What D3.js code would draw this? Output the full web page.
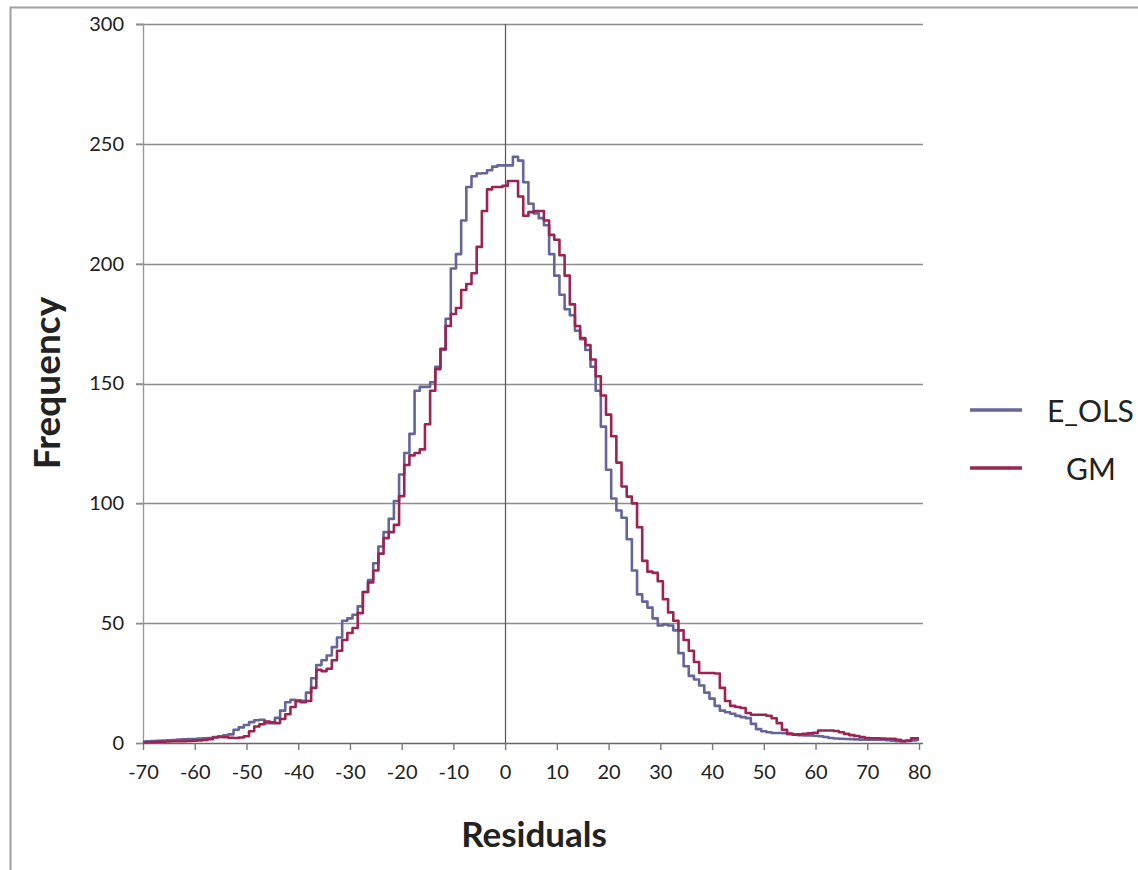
<!DOCTYPE html>
<html>
<head>
<meta charset="utf-8">
<script src="https://cdn.jsdelivr.net/npm/d3@7"></script>
<style>
  body { margin: 0; background: #fff; }
  text { font-family: Lato, "Liberation Sans", sans-serif; fill: #222; }
</style>
</head>
<body>
<div id="chart-area"></div>
<script>
// residual bins, -70 .. 80 in steps of 1
var residuals = d3.range(-70, 81);

var eOls = [
  0.5, 0.7, 0.8, 0.9, 1, 1.1, 1.2, 1.4, 1.5, 1.6,
  1.7, 1.9, 2, 2.1, 2.5, 2.8, 3.2, 3.6, 5.5, 6.5,
  7.5, 8.7, 9.5, 9.7, 8.3, 8.3, 10.5, 13.5, 17, 18,
  17.8, 17.6, 21, 27, 32.5, 34.5, 36.5, 40, 44, 51,
  52, 53.5, 57, 63, 68, 75, 82, 88, 93.5, 101,
  112, 121, 129, 147, 148.6, 148.6, 150.5, 157, 164, 177,
  198, 204, 218, 232, 236.5, 237.6, 237.7, 239, 240.5, 241,
  241, 241, 244.6, 243, 234, 225, 221, 219, 216, 204,
  195, 187, 181, 178.5, 172, 168.5, 164, 157, 147, 132,
  114, 102, 97, 94, 85, 72, 62, 59, 56.5, 52,
  49, 49.5, 49, 47, 37.5, 32, 28, 26.5, 24, 21,
  18.5, 15.5, 13.5, 12.8, 12.2, 11.3, 10.8, 10.4, 8, 5.8,
  4.9, 4.5, 4.2, 4.2, 4.1, 3.7, 3.5, 3.3, 3.2, 3.1,
  3, 2.8, 2.5, 2.1, 1.9, 1.8, 1.7, 1.6, 1.5, 1.4,
  1.4, 1.4, 1.4, 1.4, 1.2, 1, 0.8, 0.8, 0.9, 1.1,
  1.3
];

var gm = [
  0.3, 0.3, 0.4, 0.5, 0.5, 0.6, 0.7, 0.7, 0.8, 0.9,
  1, 1.1, 1.3, 1.6, 2.3, 2.5, 2.4, 2.2, 2.1, 2.3,
  2.8, 4.9, 6.9, 7.8, 9, 8.6, 8.3, 10, 12, 15,
  17.4, 17, 17.5, 23, 30.5, 30, 31, 34.5, 38.5, 43,
  45.9, 48, 54.2, 63, 67, 72, 79, 85.5, 88, 91,
  103, 116, 120, 121, 122.5, 133, 147, 156, 164.5, 174,
  179, 181.5, 189, 191.5, 196, 207, 222, 231, 232, 232,
  232.5, 234.5, 234.5, 228, 220, 221.5, 222, 222, 218, 212,
  210, 203.5, 195, 183, 174, 169, 166, 160, 153, 145,
  137, 128, 117, 107, 102.8, 100, 90, 76, 71.5, 71,
  67.5, 60, 54.5, 51, 47, 43, 38.5, 33.8, 29.2, 29.2,
  29.2, 29, 23, 17.5, 15.5, 15, 14.6, 12.5, 11.8, 11.8,
  11.8, 11.4, 10.3, 8.3, 5.5, 3.9, 3.5, 3.6, 3.8, 4,
  4.3, 5.2, 5.2, 5.2, 5, 4.5, 3.8, 3.3, 2.9, 2.5,
  2.1, 2, 2, 1.9, 1.8, 1.8, 1.3, 0.8, 1, 2,
  2
];

var xTicks = [-70, -60, -50, -40, -30, -20, -10, 0, 10, 20, 30, 40, 50, 60, 70, 80];
var yTicks = [0, 50, 100, 150, 200, 250, 300];
var seriesNames = ["E_OLS", "GM"];
var colors = ["#65659a", "#9a2452"];

var margin = { left: 143, right: 219, top: 24, bottom: 127 };
var width = 1138 - margin.left - margin.right;
var height = 870 - margin.top - margin.bottom;

var root = d3.select("#chart-area")
    .append("svg")
    .attr("width", 1138)
    .attr("height", 870);

// chart frame (only left and top edges are in the picture)
root.append("path")
    .attr("d", "M10.5,870 V7.5 H1138")
    .attr("fill", "none")
    .attr("stroke", "#a0a0a0")
    .attr("stroke-width", 2);

var svg = root.append("g")
    .attr("transform", "translate(" + margin.left + ", " + margin.top + ")");

var x = d3.scaleLinear().domain([-70, 80]).range([0, width]);
var y = d3.scaleLinear().domain([0, 300]).range([height, 0]);

// horizontal gridlines
svg.append("g")
    .selectAll("line")
    .data(yTicks.filter(d => d > 0))
    .enter()
    .append("line")
    .attr("x1", -7)
    .attr("x2", width + 4)
    .attr("y1", d => Math.round(y(d)) + 0.5)
    .attr("y2", d => Math.round(y(d)) + 0.5)
    .attr("stroke", "#8c8c8c")
    .attr("stroke-width", 1.4);

// left edge of plot with tick labels
var yAxis = d3.axisLeft(y).tickValues(yTicks).tickSize(7).tickPadding(12)
    .tickFormat(d => String(d));
var gy = svg.append("g").attr("class", "y axis").call(yAxis);
gy.select(".domain").attr("stroke", "#999").attr("stroke-width", 1.4);
gy.selectAll(".tick line").attr("stroke", "#8c8c8c").attr("stroke-width", 1.4);
gy.selectAll("text").style("font-size", "20px").attr("fill", "#333");

// vertical axis line at zero
svg.append("line")
    .attr("x1", Math.round(x(0)) + 0.5)
    .attr("x2", Math.round(x(0)) + 0.5)
    .attr("y1", 0)
    .attr("y2", height)
    .attr("stroke", "#555")
    .attr("stroke-width", 1.2);

// bottom axis
var xAxis = d3.axisBottom(x).tickValues(xTicks).tickSize(7).tickPadding(15)
    .tickFormat(d => String(d));
var gx = svg.append("g")
    .attr("class", "x axis")
    .attr("transform", "translate(0, " + height + ")")
    .call(xAxis);
gx.select(".domain").attr("stroke", "#666").attr("stroke-width", 1.4)
    .attr("d", "M0,0.5H" + (width + 4));
gx.selectAll(".tick line").attr("stroke", "#777").attr("stroke-width", 1.4);
gx.selectAll("text").style("font-size", "20px").attr("fill", "#333");

var line = d3.line()
    .x((d, i) => x(residuals[i]))
    .y(d => y(d))
    .curve(d3.curveStep);

[eOls, gm].forEach((values, k) => {
    svg.append("path")
        .datum(values)
        .attr("fill", "none")
        .attr("stroke", colors[k])
        .attr("stroke-width", 2.6)
        .attr("stroke-linejoin", "round")
        .attr("d", line);
});

// legend
var legend = root.append("g");
seriesNames.forEach((name, k) => {
    var ly = 410 + k * 58;
    legend.append("line")
        .attr("x1", 970).attr("x2", 1022)
        .attr("y1", ly).attr("y2", ly)
        .attr("stroke", colors[k])
        .attr("stroke-width", 3.5);
    legend.append("text")
        .attr("x", k === 0 ? 1047 : 1066)
        .attr("y", ly + 12)
        .style("font-size", "30px")
        .text(name);
});

// axis titles
root.append("text")
    .attr("x", 534)
    .attr("y", 847)
    .attr("text-anchor", "middle")
    .style("font-size", "35px")
    .style("font-weight", "bold")
    .text("Residuals");

root.append("text")
    .attr("transform", "translate(60, 383) rotate(-90)")
    .attr("text-anchor", "middle")
    .style("font-size", "37px")
    .style("font-weight", "bold")
    .text("Frequency");
</script>
</body>
</html>
